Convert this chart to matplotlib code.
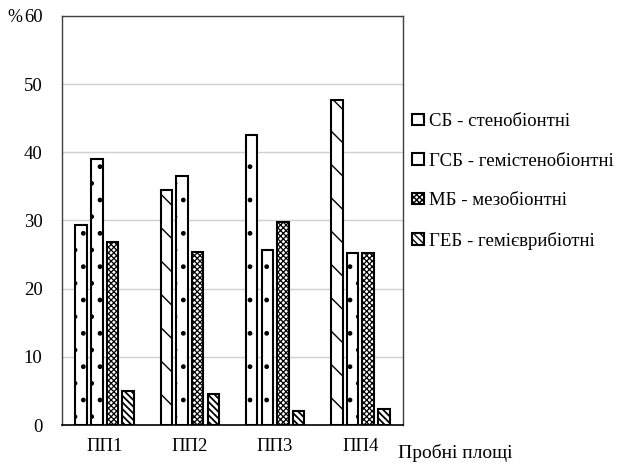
import matplotlib
matplotlib.use("Agg")
import matplotlib.pyplot as plt
import numpy as np

plt.rcParams['font.family'] = ['Liberation Serif', 'DejaVu Serif']
plt.rcParams['hatch.linewidth'] = 1.0

categories = ['ПП1', 'ПП2', 'ПП3', 'ПП4']
series_names = ['СБ - стенобіонтні', 'ГСБ - гемістенобіонтні',
                'МБ - мезобіонтні', 'ГЕБ - гемієврибіотні']
sb = [29.3, 34.4, 42.5, 47.7]
gsb = [39.0, 36.5, 25.7, 25.2]
mb = [26.9, 25.3, 29.8, 25.2]
geb = [5.0, 4.5, 2.0, 2.3]
yticks = [0, 10, 20, 30, 40, 50, 60]

# hatch per bar (the picture renders the first series differently per group)
hatches = [['.', '\\', '.', '\\'],
           ['.', '.', '.', '.'],
           ['xxxxxx', 'xxxxxx', 'xxxxxx', 'xxxxxx'],
           ['\\\\\\\\\\', '\\\\\\\\\\', '\\\\\\\\\\', '\\\\\\\\\\']]
hatch_lw = [1.0, 1.0, 0.9, 1.3]

fig = plt.figure(figsize=(6.2, 4.65), dpi=100)
ax = fig.add_axes([0.1, 0.086, 0.55, 0.88])

x = np.arange(len(categories))
pitch = 0.184
width = 0.135
values = [sb, gsb, mb, geb]
handles = []
for i, vals in enumerate(values):
    off = (i - 1.5) * pitch
    with plt.rc_context({'hatch.linewidth': hatch_lw[i]}):
        bars = ax.bar(x + off, vals, width, color='white', edgecolor='black',
                      linewidth=1.5, zorder=3, label=series_names[i])
        for b, h in zip(bars, hatches[i]):
            b.set_hatch(h)
    handles.append(bars[0])

ax.set_xlim(-0.5, 3.5)
ax.set_ylim(0, 60)
ax.set_yticks(yticks)
ax.set_xticks(x)
ax.set_xticklabels(categories)
ax.tick_params(axis='both', length=0, labelsize=13.5)
ax.tick_params(axis='y', pad=14)
ax.tick_params(axis='x', pad=9)
ax.yaxis.grid(True, color='#d0d0d0', linewidth=1.0, zorder=0)
for s in ['top', 'right', 'left']:
    ax.spines[s].set_color('#404040')
    ax.spines[s].set_linewidth(1.0)
ax.spines['bottom'].set_linewidth(1.2)

fig.text(0.012, 0.962, '%', fontsize=13, va='center')
fig.text(0.642, 0.026, 'Пробні площі', fontsize=14, va='center')

ax.legend(handles, series_names, loc='center left', bbox_to_anchor=(0.665, 0.61),
          bbox_transform=fig.transFigure, frameon=False, fontsize=13.5,
          handlelength=0.6, handleheight=0.6, handletextpad=0.3,
          labelspacing=1.2, borderaxespad=0, borderpad=0)

fig.savefig('out.png', dpi=100)
